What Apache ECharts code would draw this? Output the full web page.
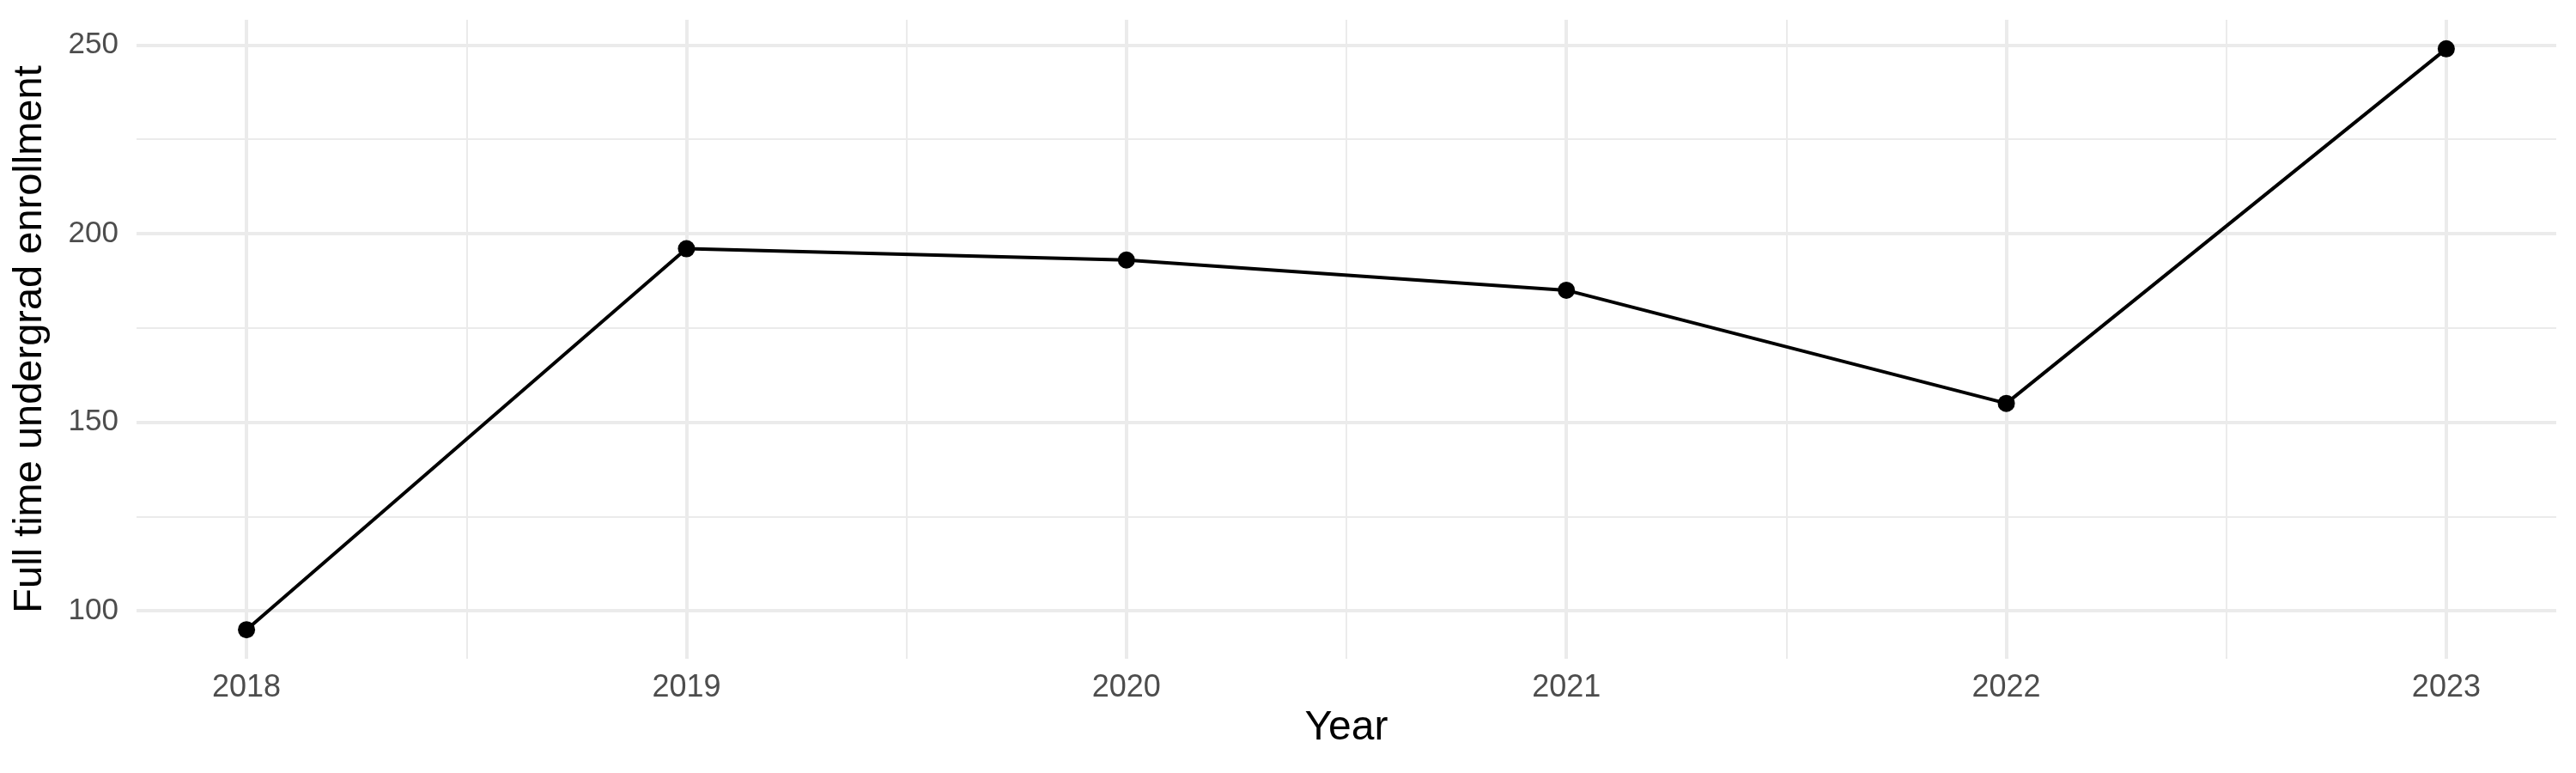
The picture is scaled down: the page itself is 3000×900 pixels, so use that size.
<!DOCTYPE html>
<html>
<head>
<meta charset="utf-8">
<script src="https://cdn.jsdelivr.net/npm/echarts@6/dist/echarts.min.js"></script>
<style>
  html, body { margin: 0; padding: 0; background: #fff; }
  #main { width: 3000px; height: 900px; }
</style>
</head>
<body>
<div id="main"></div>
<script>
var years = [2018, 2019, 2020, 2021, 2022, 2023];
var enrollment = [95, 196, 193, 185, 155, 249];
var yTicks = [100, 150, 200, 250];
var yMinor = [125, 175, 225];
var xMinor = [2018.5, 2019.5, 2020.5, 2021.5, 2022.5];

var gridMajor = '#EBEBEB';

function gridLines(axis, values, width) {
  return values.map(function (v) {
    var d = {};
    d[axis] = v;
    d.lineStyle = { color: gridMajor, width: width, type: 'solid' };
    return d;
  });
}

var chart = echarts.init(document.getElementById('main'));

chart.setOption({
  animation: false,
  backgroundColor: '#ffffff',
  textStyle: { fontFamily: 'Liberation Sans, Arial, sans-serif' },
  grid: { left: 159, right: 23, top: 23, bottom: 133 },
  xAxis: {
    type: 'value',
    min: 2017.75,
    max: 2023.25,
    name: 'Year',
    nameLocation: 'middle',
    nameGap: 57,
    nameTextStyle: { fontSize: 48, color: '#000' },
    axisLine: { show: false },
    axisTick: { show: false },
    splitLine: { show: false },
    axisLabel: {
      customValues: years,
      fontSize: 36,
      color: '#4D4D4D',
      margin: 16,
      formatter: function (v) { return String(v); }
    }
  },
  yAxis: {
    type: 'value',
    min: 87.3,
    max: 256.7,
    name: 'Full time undergrad enrollment',
    nameLocation: 'middle',
    nameGap: 100,
    nameTextStyle: { fontSize: 47, color: '#000' },
    axisLine: { show: false },
    axisTick: { show: false },
    splitLine: { show: false },
    axisLabel: {
      customValues: yTicks,
      fontSize: 35,
      color: '#4D4D4D',
      margin: 21
    }
  },
  series: [
    {
      // panel gridlines, kept under the data line
      type: 'line',
      data: [],
      z: 1,
      silent: true,
      markLine: {
        z: 1,
        silent: true,
        symbol: ['none', 'none'],
        label: { show: false },
        emphasis: { disabled: true },
        data: []
          .concat(gridLines('xAxis', xMinor, 2))
          .concat(gridLines('yAxis', yMinor, 2))
          .concat(gridLines('xAxis', years, 4))
          .concat(gridLines('yAxis', yTicks, 4))
      }
    },
    {
      type: 'line',
      z: 10,
      data: years.map(function (y, i) { return [y, enrollment[i]]; }),
      symbol: 'circle',
      symbolSize: 20,
      showSymbol: true,
      itemStyle: { color: '#000' },
      lineStyle: { color: '#000', width: 4 }
    }
  ]
});
</script>
</body>
</html>
